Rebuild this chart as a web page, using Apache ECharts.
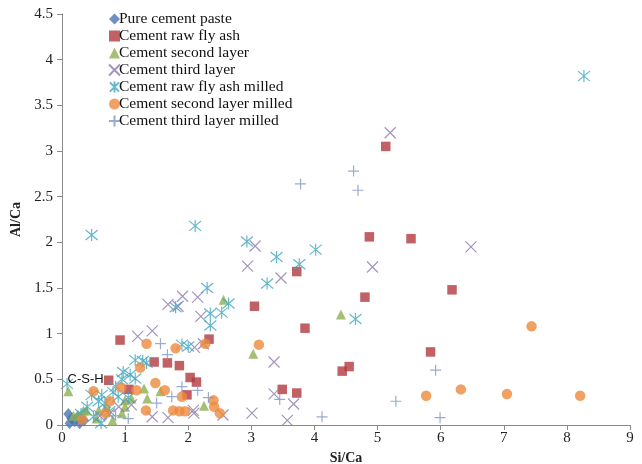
<!DOCTYPE html>
<html>
<head>
<meta charset="utf-8">
<script src="https://cdn.jsdelivr.net/npm/echarts@6/dist/echarts.min.js"></script>
<style>html,body{margin:0;padding:0;background:#fff}#c{width:642px;height:464px}</style>
</head>
<body>
<div id="c"></div>
<script>
const xTickLabels = ['0','1','2','3','4','5','6','7','8','9'];
const yTickLabels = ['0','0.5','1','1.5','2','2.5','3','3.5','4','4.5'];
const seriesNames = ['Pure cement paste','Cement raw fly ash','Cement second layer','Cement third layer','Cement raw fly ash milled','Cement second layer milled','Cement third layer milled'];

const pureCementPaste = [[0.10,0.12],[0.15,0.07],[0.20,0.04],[0.25,0.09],[0.35,0.05],[0.12,0.02],[0.28,0.02]];
const cementRawFlyAsh = [[0.92,0.93],[0.74,0.49],[1.06,0.39],[1.46,0.69],[1.67,0.68],[1.86,0.65],[2.03,0.52],[2.13,0.47],[1.98,0.33],[2.33,0.94],[3.05,1.30],[3.85,1.06],[3.72,1.68],[4.80,1.40],[4.87,2.06],[5.53,2.04],[5.13,3.05],[6.18,1.48],[5.84,0.80],[4.44,0.59],[4.55,0.64],[3.49,0.39],[3.72,0.35]];
const cementSecondLayer = [[0.10,0.37],[0.26,0.11],[0.34,0.16],[0.39,0.16],[0.55,0.07],[0.58,0.16],[0.80,0.05],[0.95,0.13],[1.00,0.27],[1.00,0.20],[1.10,0.29],[1.30,0.40],[1.56,0.37],[1.35,0.29],[2.25,0.21],[2.56,1.37],[3.03,0.78],[4.42,1.21],[0.70,0.20],[0.18,0.10]];
const cementThirdLayer = [[1.20,0.97],[1.43,1.03],[1.68,1.32],[1.84,1.30],[1.91,1.41],[2.15,1.40],[2.20,1.19],[2.10,0.85],[2.24,0.89],[2.94,1.74],[3.06,1.96],[3.47,1.61],[4.92,1.73],[5.20,3.20],[6.48,1.95],[3.36,0.69],[3.36,0.34],[3.67,0.23],[3.57,0.05],[3.01,0.13],[2.55,0.11],[2.09,0.13],[1.43,0.09],[1.68,0.08],[2.08,0.16],[0.60,0.10],[0.90,0.20],[0.75,0.12],[1.10,0.22]];
const cementRawFlyAshMilled = [[0.47,2.08],[2.11,2.18],[2.93,2.01],[3.40,1.84],[3.76,1.76],[4.02,1.92],[3.25,1.55],[2.30,1.50],[1.80,1.29],[2.35,1.22],[2.53,1.23],[2.64,1.33],[2.35,1.09],[4.65,1.16],[8.27,3.82],[1.90,0.88],[2.00,0.86],[1.16,0.71],[1.28,0.70],[1.34,0.68],[0.97,0.58],[1.08,0.55],[1.16,0.51],[0.08,0.45],[0.47,0.33],[0.63,0.33],[0.81,0.36],[0.89,0.31],[0.58,0.26],[0.68,0.24],[0.50,0.09],[0.62,0.02],[0.40,0.20],[0.75,0.15],[0.85,0.42],[1.05,0.30],[0.30,0.12],[0.95,0.50]];
const cementSecondLayerMilled = [[0.50,0.37],[0.94,0.41],[1.18,0.38],[1.24,0.63],[1.34,0.89],[1.80,0.84],[2.27,0.89],[3.12,0.88],[1.48,0.46],[1.63,0.38],[1.90,0.31],[2.40,0.27],[2.41,0.20],[2.50,0.13],[1.33,0.16],[1.76,0.16],[1.86,0.15],[1.95,0.15],[0.76,0.26],[0.69,0.13],[0.32,0.06],[5.77,0.32],[6.32,0.39],[7.05,0.34],[7.44,1.08],[8.21,0.32]];
const cementThirdLayerMilled = [[1.56,0.89],[1.67,0.77],[1.90,0.42],[2.15,0.38],[2.32,0.30],[1.74,0.31],[1.50,0.24],[1.05,0.07],[3.45,0.28],[4.12,0.09],[5.29,0.26],[5.99,0.08],[5.92,0.60],[3.78,2.64],[4.62,2.78],[4.69,2.57],[0.85,0.10]];
const annotation = {text:'C-S-H', coord:[0.08,0.5]};

const serif = '"Liberation Serif","Times New Roman",serif';
const X_PATH = 'path://M0,0L10,10M10,0L0,10';
const AST_PATH = 'path://M0,0L10,10M10,0L0,10M5,-1L5,11';
const PLUS_PATH = 'path://M5,0L5,10M0,5L10,5';

function lineSym(name, data, path, color, size){
  return {name, type:'scatter', data, symbol:path, symbolSize:size,
    itemStyle:{color:'rgba(0,0,0,0)', borderColor:color, borderWidth:1.2}};
}
function fillSym(name, data, sym, color, size){
  return {name, type:'scatter', data, symbol:sym, symbolSize:size, itemStyle:{color}};
}

const series = [
  fillSym(seriesNames[0], pureCementPaste, 'diamond', '#4A74B5', [10,12]),
  fillSym(seriesNames[1], cementRawFlyAsh, 'rect', '#B23A3E', 9.5),
  fillSym(seriesNames[2], cementSecondLayer, 'triangle', '#8DB04F', 10),
  lineSym(seriesNames[3], cementThirdLayer, X_PATH, '#8C78AE', 11),
  lineSym(seriesNames[4], cementRawFlyAshMilled, AST_PATH, '#3FA6BE', 12),
  fillSym(seriesNames[5], cementSecondLayerMilled, 'circle', '#EE8A3C', 10.5),
  lineSym(seriesNames[6], cementThirdLayerMilled, PLUS_PATH, '#7F96C6', 11)
];
series[0].markPoint = {
  symbol:'circle', symbolSize:1, itemStyle:{color:'rgba(0,0,0,0)'},
  data:[{coord:annotation.coord, value:annotation.text}],
  label:{show:true, position:'right', distance:0, formatter:annotation.text, color:'#111', fontSize:13, fontFamily:'"Liberation Sans",Arial,sans-serif'},
  silent:true
};

const chart = echarts.init(document.getElementById('c'), null, {renderer:'canvas'});
chart.setOption({
  animation:false,
  backgroundColor:'#fff',
  grid:{left:62, right:12, top:14, bottom:39, containLabel:false, outerBoundsMode:'none'},
  legend:{
    data:seriesNames, orient:'vertical', left:103, top:6, itemGap:1,
    itemWidth:11, itemHeight:11,
    textStyle:{fontFamily:serif, fontSize:15.5, color:'#111', padding:[0,0,0,-6]}
  },
  xAxis:{
    type:'value', min:0, max:xTickLabels.length-1, interval:1,
    name:'Si/Ca', nameLocation:'middle', nameGap:18,
    nameTextStyle:{fontFamily:serif, fontWeight:'bold', fontSize:14, color:'#222', padding:[-14,0,0,0]},
    axisLine:{show:true, lineStyle:{color:'#8a8a8a'}},
    axisTick:{show:true, length:5, lineStyle:{color:'#8a8a8a'}},
    axisLabel:{fontFamily:serif, fontSize:15, color:'#222', margin:6, formatter:v=>xTickLabels[Math.round(v)]},
    splitLine:{show:false}
  },
  yAxis:{
    type:'value', min:0, max:4.5, interval:0.5,
    name:'Al/Ca', nameLocation:'middle', nameGap:34, nameRotate:90,
    nameTextStyle:{fontFamily:serif, fontWeight:'bold', fontSize:14, color:'#222'},
    axisLine:{show:true, lineStyle:{color:'#8a8a8a'}},
    axisTick:{show:true, length:5, lineStyle:{color:'#8a8a8a'}},
    axisLabel:{fontFamily:serif, fontSize:15, color:'#222', margin:9, formatter:v=>yTickLabels[Math.round(v*2)]},
    splitLine:{show:false}
  },
  series
});
</script>
</body>
</html>
